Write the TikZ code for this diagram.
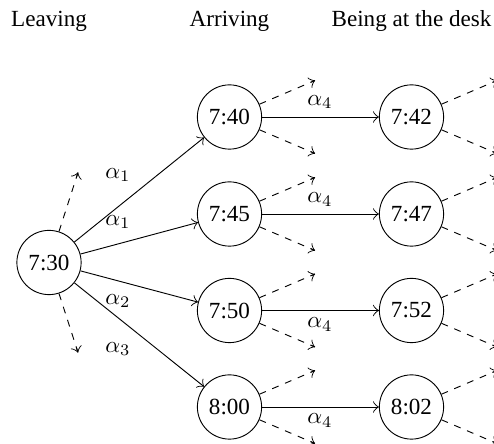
\documentclass[tikz,border=0pt]{standalone}
\usepackage{fontspec}
\setmainfont{Liberation Serif}
\usetikzlibrary{arrows.meta,calc}
\begin{document}
\begin{tikzpicture}[x=0.4329pt,y=-0.4329pt,
  >={Classical TikZ Rightarrow[scale=1.4]},
  st/.style={circle,draw},
  lab/.style={inner sep=0pt},
  dsh/.style={dashed},
  sol/.style={->}]
\useasboundingbox (0,0) rectangle (494,444);
% headers
\node[anchor=base] (h1) at (49,27) {Leaving};
\node[anchor=base] (h2) at (229.5,27) {Arriving};
\node[anchor=base] (h3) at (411.5,27) {Being at the desk};
% states
\node[st] (a)  at (49,262.5) {7:30};
\node[st] (b1) at (229.5,117) {7:40};
\node[st] (b2) at (229.5,214) {7:45};
\node[st] (b3) at (229.5,310.5) {7:50};
\node[st] (b4) at (229.5,407) {8:00};
\node[st] (c1) at (411.5,117) {7:42};
\node[st] (c2) at (411.5,214) {7:47};
\node[st] (c3) at (411.5,310.5) {7:52};
\node[st] (c4) at (411.5,407) {8:02};
% solid transitions
\draw[sol] (a) -- (b1);
\draw[sol] (a) -- (b2);
\draw[sol] (a) -- (b3);
\draw[sol] (a) -- (b4);
\draw[sol] (b1) -- (c1);
\draw[sol] (b2) -- (c2);
\draw[sol] (b3) -- (c3);
\draw[sol] (b4) -- (c4);
% labels
\node[lab] (l1) at (118,175) {$\alpha_1$};
\node[lab] (l2) at (118,222) {$\alpha_1$};
\node[lab] (l3) at (118,301) {$\alpha_2$};
\node[lab] (l4) at (118,349) {$\alpha_3$};
\node[lab] (m1) at (320,102) {$\alpha_4$};
\node[lab] (m2) at (320,199.5) {$\alpha_4$};
\node[lab] (m3) at (320,324.5) {$\alpha_4$};
\node[lab] (m4) at (320,420.5) {$\alpha_4$};
% dashed free ends
\coordinate (au) at (78,172.5);
\coordinate (ad) at (78,352.5);
\coordinate (b1u) at (315,80.5);  \coordinate (b1d) at (315,153.5);
\coordinate (b2u) at (315,177.5); \coordinate (b2d) at (315,250.5);
\coordinate (b3u) at (315,274);   \coordinate (b3d) at (315,347);
\coordinate (b4u) at (315,370.5); \coordinate (b4d) at (315,443.5);
\coordinate (c1u) at (497,80.5);  \coordinate (c1d) at (497,153.5);
\coordinate (c2u) at (497,177.5); \coordinate (c2d) at (497,250.5);
\coordinate (c3u) at (497,274);   \coordinate (c3d) at (497,347);
\coordinate (c4u) at (497,370.5); \coordinate (c4d) at (497,443.5);
\foreach \n/\e in {a/au,a/ad,b1/b1u,b1/b1d,b2/b2u,b2/b2d,b3/b3u,b3/b3d,b4/b4u,b4/b4d,
                   c1/c1u,c1/c1d,c2/c2u,c2/c2d,c3/c3u,c3/c3d,c4/c4u,c4/c4d}{
  \draw[dsh] (\n) -- (\e);
  \draw[sol] ($(\e)!0.05!(\n)$) -- (\e);
}
\end{tikzpicture}
\end{document}
